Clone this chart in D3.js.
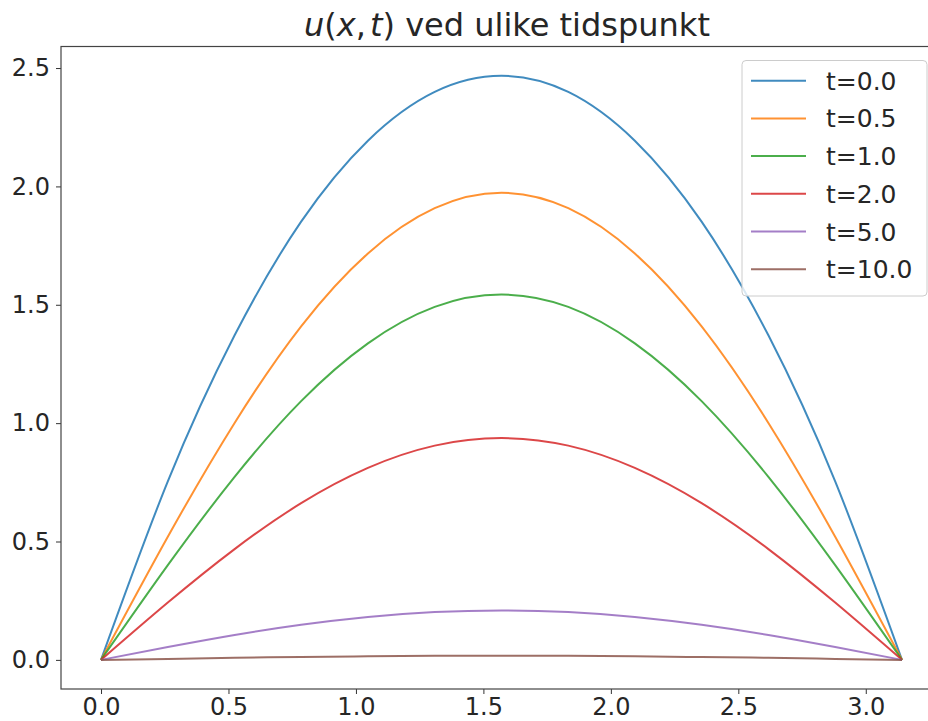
<!DOCTYPE html>
<html>
<head>
<meta charset="utf-8">
<script src="https://cdn.jsdelivr.net/npm/d3@7"></script>
<style>
  body { margin: 0; background: #fff; }
  svg { display: block; font-family: "DejaVu Sans", sans-serif; }
</style>
</head>
<body>
<div id="chart"></div>
<script>
var xs = [0, 0.262, 0.524, 0.785, 1.047, 1.309, 1.571, 1.833, 2.094, 2.356, 2.618, 2.880, 3.142];

var labels = ["t=0.0", "t=0.5", "t=1.0", "t=2.0", "t=5.0", "t=10.0"];
var colors = ["#1f77b4", "#ff7f0e", "#2ca02c", "#d62728", "#9467bd", "#8c564b"];

var u_t0  = [0, 0.754, 1.371, 1.851, 2.193, 2.399, 2.467, 2.399, 2.193, 1.851, 1.371, 0.754, 0];
var u_t05 = [0, 0.520, 1.001, 1.409, 1.717, 1.908, 1.973, 1.908, 1.717, 1.409, 1.001, 0.520, 0];
var u_t1  = [0, 0.400, 0.773, 1.093, 1.337, 1.491, 1.543, 1.491, 1.337, 1.093, 0.773, 0.400, 0];
var u_t2  = [0, 0.242, 0.468, 0.662, 0.811, 0.905, 0.937, 0.905, 0.811, 0.662, 0.468, 0.242, 0];
var u_t5  = [0, 0.054, 0.105, 0.148, 0.181, 0.202, 0.209, 0.202, 0.181, 0.148, 0.105, 0.054, 0];
var u_t10 = [0, 0.004, 0.009, 0.012, 0.015, 0.017, 0.017, 0.017, 0.015, 0.012, 0.009, 0.004, 0];

var series = [u_t0, u_t05, u_t1, u_t2, u_t5, u_t10];

var xTicks = [0, 0.5, 1.0, 1.5, 2.0, 2.5, 3.0];
var yTicks = [0, 0.5, 1.0, 1.5, 2.0, 2.5];

var width = 928, height = 721;
var plotL = 61, plotR = 942, plotT = 46.5, plotB = 689;

var svg = d3.select("#chart").append("svg")
    .attr("width", width)
    .attr("height", height);

svg.append("rect").attr("width", width).attr("height", height).attr("fill", "#fff");

var x = d3.scaleLinear().domain([-0.157, 3.299]).range([plotL, plotR]);
var y = d3.scaleLinear().domain([-0.123, 2.591]).range([plotB, plotT]);

// curves
var line = d3.line()
    .curve(d3.curveNatural)
    .x(function(d) { return x(d[0]); })
    .y(function(d) { return y(d[1]); });

for (var i = 0; i < series.length; i++) {
    var pts = xs.map(function(v, j) { return [v, series[i][j]]; });
    svg.append("path")
        .datum(pts)
        .attr("d", line)
        .attr("fill", "none")
        .attr("stroke", colors[i])
        .attr("stroke-opacity", 0.85)
        .attr("stroke-width", 2);
}

// axes
var xAxis = svg.append("g")
    .attr("transform", "translate(0," + plotB + ")")
    .call(d3.axisBottom(x).tickValues(xTicks).tickFormat(d3.format(".1f")).tickSizeOuter(0).tickSize(5).tickPadding(4));
var yAxis = svg.append("g")
    .attr("transform", "translate(" + plotL + ",0)")
    .call(d3.axisLeft(y).tickValues(yTicks).tickFormat(d3.format(".1f")).tickSizeOuter(0).tickSize(5).tickPadding(6));

[xAxis, yAxis].forEach(function(a) {
    a.select(".domain").remove();
    a.selectAll("line").attr("stroke", "#333").attr("stroke-width", 1);
    a.selectAll("text")
        .attr("fill", "#262626")
        .style("font-family", "DejaVu Sans")
        .style("font-size", "24px");
});

// spines
svg.append("rect")
    .attr("x", plotL).attr("y", plotT)
    .attr("width", plotR - plotL).attr("height", plotB - plotT)
    .attr("fill", "none")
    .attr("stroke", "#444")
    .attr("stroke-width", 1.2);

// title
var title = svg.append("text")
    .attr("x", 507)
    .attr("y", 36)
    .attr("text-anchor", "middle")
    .attr("fill", "#262626")
    .style("font-size", "32px");
title.append("tspan").style("font-style", "italic").text("u");
title.append("tspan").text("(");
title.append("tspan").style("font-style", "italic").text("x");
title.append("tspan").text(",");
title.append("tspan").attr("dx", 4).style("font-style", "italic").text("t");
title.append("tspan").text(") ved ulike tidspunkt");

// legend
var lg = svg.append("g");
lg.append("rect")
    .attr("x", 742).attr("y", 60.5)
    .attr("width", 185).attr("height", 235.5)
    .attr("rx", 4)
    .attr("fill", "#fff")
    .attr("fill-opacity", 0.8)
    .attr("stroke", "#ccc")
    .attr("stroke-width", 1);

for (var k = 0; k < labels.length; k++) {
    var ly = 80.7 + k * 37.7;
    lg.append("line")
        .attr("x1", 751).attr("x2", 806)
        .attr("y1", ly).attr("y2", ly)
        .attr("stroke", colors[k])
        .attr("stroke-opacity", 0.85)
        .attr("stroke-width", 2);
    lg.append("text")
        .attr("x", 826)
        .attr("y", ly + 9)
        .attr("fill", "#262626")
        .style("font-size", "25px")
        .text(labels[k]);
}
</script>
</body>
</html>
